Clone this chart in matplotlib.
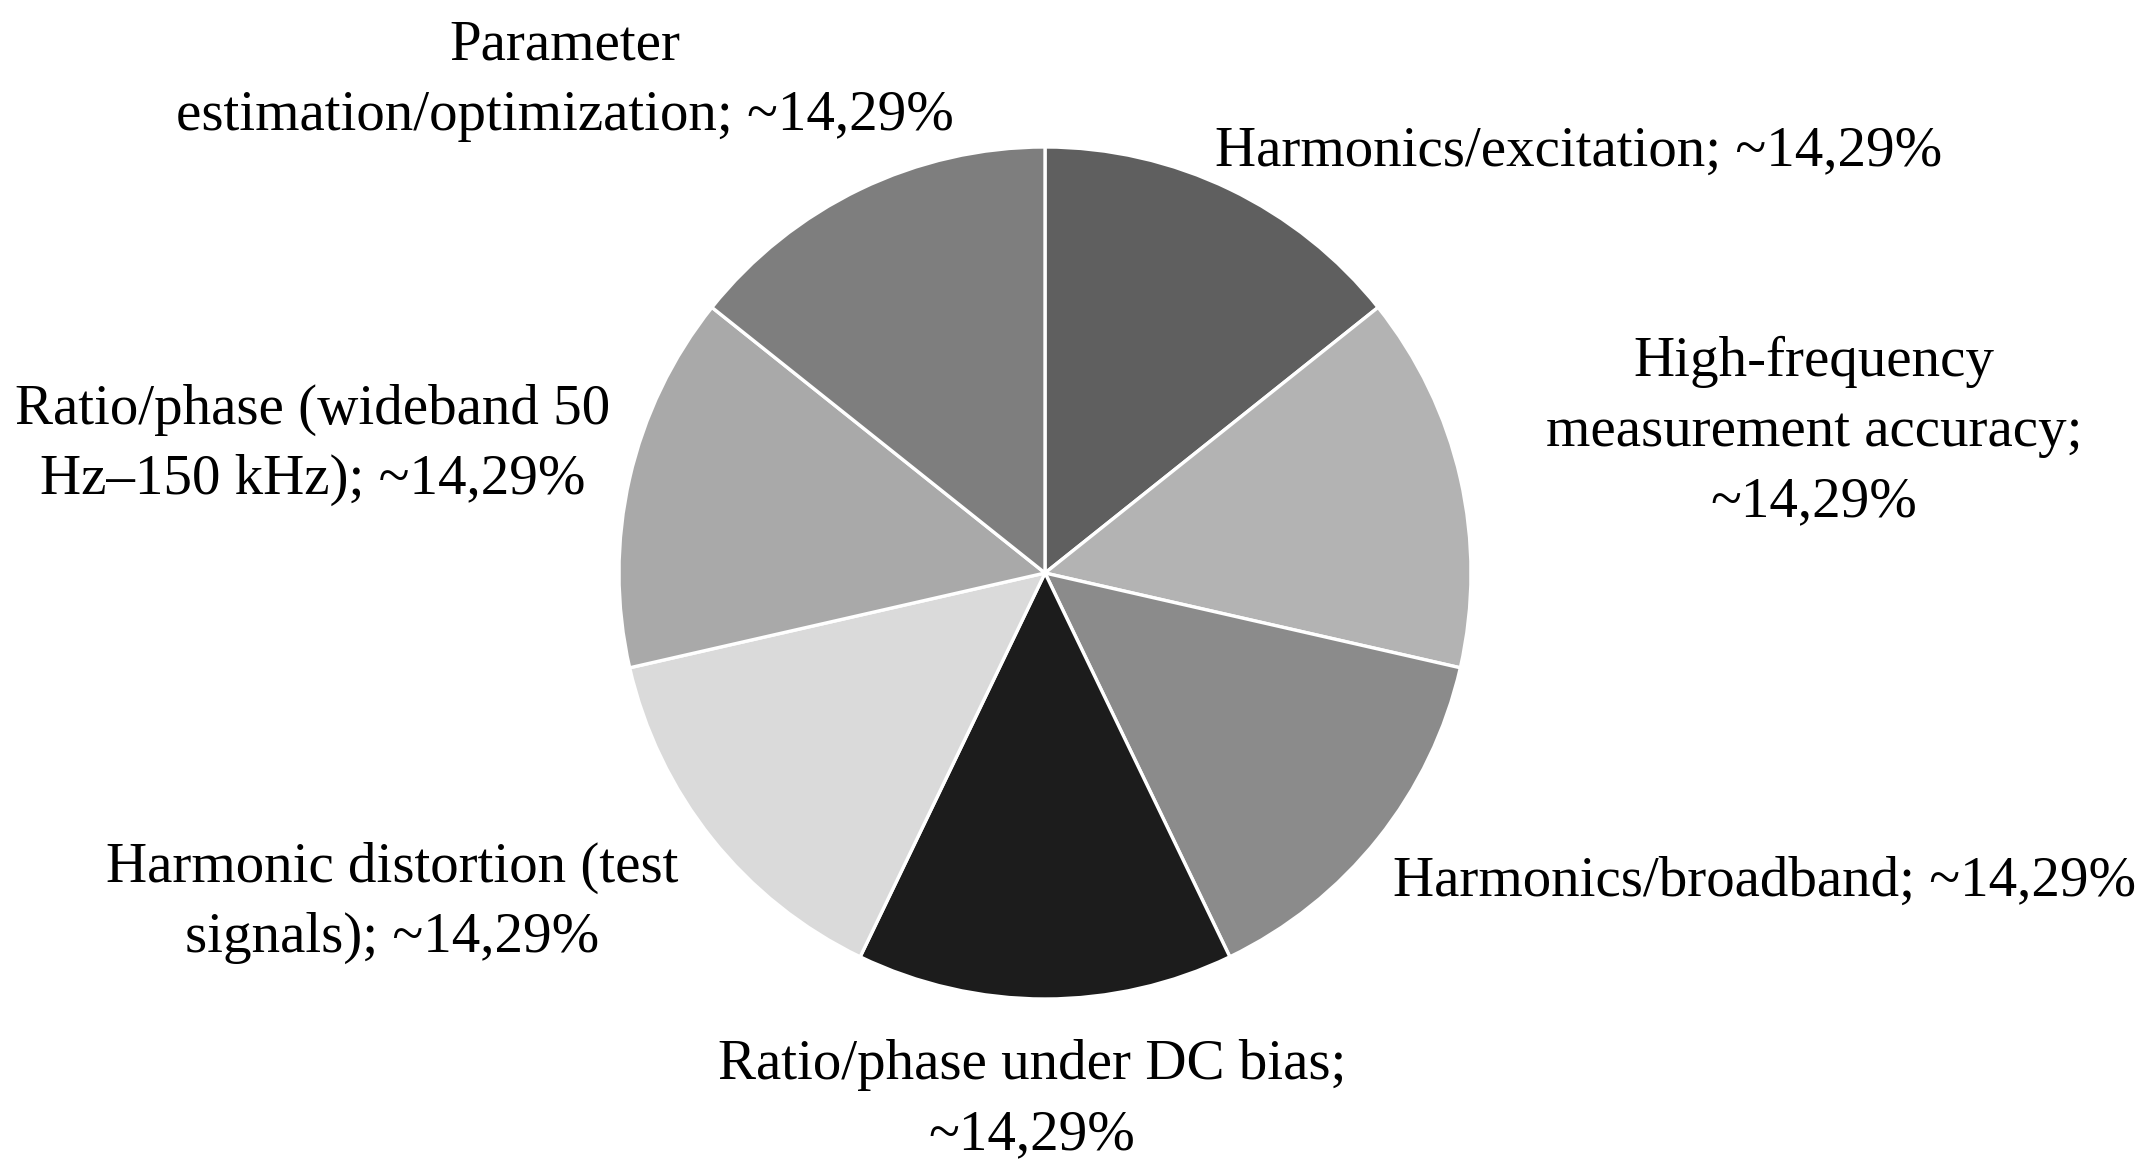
import matplotlib
matplotlib.use('Agg')
import matplotlib.pyplot as plt

# categories in clockwise order starting at 12 o'clock
categories = [
    'Harmonics/excitation',
    'High-frequency\nmeasurement accuracy',
    'Harmonics/broadband',
    'Ratio/phase under DC bias',
    'Harmonic distortion (test\nsignals)',
    'Ratio/phase (wideband 50\nHz\u2013150 kHz)',
    'Parameter\nestimation/optimization',
]
shares = [14.29, 14.29, 14.29, 14.29, 14.29, 14.29, 14.29]
pct_text = ['~14,29%'] * 7
# how the percentage joins the name ("; " on same line or new line)
joiners = ['; ', ';\n', '; ', ';\n', '; ', '; ', '; ']

colors = ['#5f5f5f', '#b3b3b3', '#8b8b8b', '#1c1c1c', '#dadada', '#a9a9a9', '#7e7e7e']

W, H = 2151, 1172
fig = plt.figure(figsize=(W / 100, H / 100), dpi=100)
ax = fig.add_axes([0, 0, 1, 1])

cx, cy, r = 1045, H - 573, 426
ax.pie(shares, colors=colors, startangle=90, counterclock=False,
       center=(cx, cy), radius=r, frame=True,
       wedgeprops=dict(edgecolor='white', linewidth=2.4))
ax.set_xlim(0, W)
ax.set_ylim(0, H)
ax.set_aspect('equal')
ax.axis('off')

# label anchor positions (pixel coords from top-left, center of text block)
label_pos = [
    (1579, 152),
    (1814, 432),
    (1765, 882),
    (1032, 1100),
    (392, 903),
    (313, 445),
    (565, 81),
]

for name, pct, j, (x, y) in zip(categories, pct_text, joiners, label_pos):
    ax.text(x, H - y, name + j + pct, ha='center', va='center',
            fontsize=41, family='Liberation Serif', linespacing=1.45,
            color='black')

fig.savefig('out.png', dpi=100, facecolor='white')
